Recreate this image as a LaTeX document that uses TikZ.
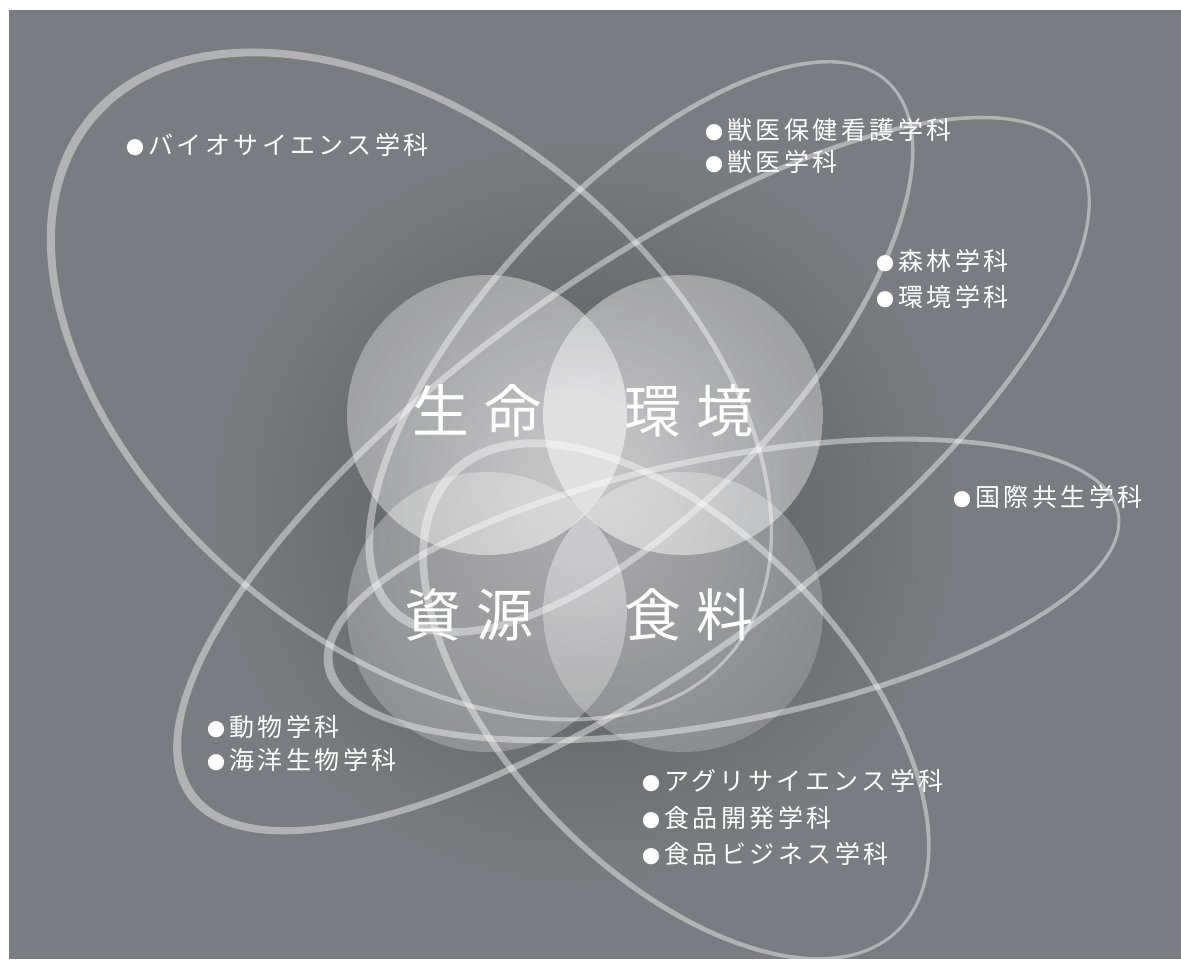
\documentclass[tikz,border=0pt]{standalone}
\usepackage{fontspec}
\usetikzlibrary{positioning}
\newfontfamily\deptfont{Noto Sans CJK JP}[LetterSpace=14]
\newfontfamily\themefont{Noto Sans CJK JP}[LetterSpace=26]
\newfontfamily\dotfont{Noto Sans CJK JP}

\definecolor{bggray}{RGB}{123,124,129}

% ribbon = ring between two ellipses: centre, x radius, y radius, angle
\newcommand{\drawribbon}[4]{%
  \fill[ribbon, rotate around={#4:(#1)}]
    (#1) ellipse [x radius=#2, y radius=#3]
    ([xshift=3pt]#1) ellipse [x radius=#2-6, y radius=#3-6];}
\newcommand{\deptdot}{{\dotfont\fontsize{18pt}{18pt}\selectfont ●}\hspace{4pt}}

\begin{document}
\begin{tikzpicture}[x=1pt, y=-1pt,
    ribbon/.style={fill=white, fill opacity=.42, even odd rule},
    zone/.style={circle, minimum size=280pt, inner sep=0pt},
    dept/.style={anchor=west, inner sep=0pt, text=white, text height=22pt, text depth=3pt,
                 font={\deptfont\fontsize{25pt}{30pt}\selectfont}},
    theme/.style={inner sep=0pt, text=white, font={\themefont\fontsize{57pt}{62pt}\selectfont}}]

    \useasboundingbox (0,0) rectangle (1181,959);
    \fill[white] (0,0) rectangle (1181,959);
    \fill[bggray] (9,10) rectangle (1181,959);

    \begin{scope}
        \clip (9,10) rectangle (1181,959);
        \coordinate (mid) at (585,513);
        % soft shadow round the fields
        \foreach \r in {170,180,...,370}
            \fill[black, opacity=.007] (mid) circle (\r);

        % four fields
        \node[zone] (resZone)  at (487,612) {};
        \node[zone] (foodZone) at (683,612) {};
        \node[zone] (lifeZone) at (487,415) {};
        \node[zone] (envZone)  at (683,415) {};
        \foreach \zone/\gx/\gy/\base/\glow in {resZone/560/545/.18/.02, foodZone/610/545/.14/.018,
                                               lifeZone/570/478/.28/.03, envZone/600/478/.28/.03}{
            \begin{scope}
                \clip (\zone.center) circle (140);
                \fill[white, opacity=\base] (\zone.center) circle (140);
                \foreach \r in {10,20,...,260}
                    \fill[white, opacity=\glow] (\gx,\gy) circle (\r);
            \end{scope}
        }

        % department ribbons
        \coordinate (bioC)    at (410,385);
        \coordinate (vetC)    at (640,348);
        \coordinate (forestC) at (632,475);
        \coordinate (intlC)   at (722,590);
        \coordinate (agriC)   at (675,700);
        \drawribbon{bioC}{420}{262}{-40}
        \drawribbon{vetC}{365}{158}{47}
        \drawribbon{forestC}{549}{195}{36}
        \drawribbon{intlC}{405}{135}{11}
        \drawribbon{agriC}{322}{172}{-46}
    \end{scope}

    % field names
    \node[theme] (life) at (477,411) {生命};
    \node[theme] (envr) at (689,411) {環境};
    \node[theme] (res)  at (469,615) {資源};
    \node[theme] (food) at (689,615) {食料};

    % departments
    \node[dept] (bio) at (126,145) {\deptdot バイオサイエンス学科};
    \node[dept] (vetnurse) at (705,130) {\deptdot 獣医保健看護学科};
    \node[dept, below right=7pt and 0pt of vetnurse.south west] (vet) {\deptdot 獣医学科};
    \node[dept] (forest) at (876,261) {\deptdot 森林学科};
    \node[dept, below right=11pt and 0pt of forest.south west] (envdept) {\deptdot 環境学科};
    \node[dept] (intl) at (953,497) {\deptdot 国際共生学科};
    \node[dept] (animal) at (207,727) {\deptdot 動物学科};
    \node[dept, below right=8pt and 0pt of animal.south west] (marine) {\deptdot 海洋生物学科};
    \node[dept] (agri) at (642,781) {\deptdot アグリサイエンス学科};
    \node[dept, below right=12pt and 0pt of agri.south west] (fooddev) {\deptdot 食品開発学科};
    \node[dept, below right=10pt and 0pt of fooddev.south west] (foodbiz) {\deptdot 食品ビジネス学科};
\end{tikzpicture}
\end{document}
